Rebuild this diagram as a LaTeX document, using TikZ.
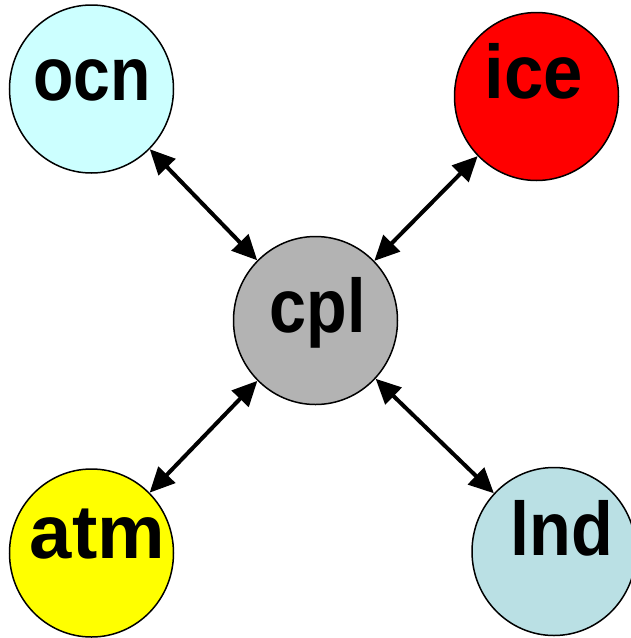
\documentclass[tikz,border=0pt]{standalone}
\usepackage{fontspec}
\setmainfont{Liberation Sans}
\usetikzlibrary{shapes.geometric,arrows.meta}
\definecolor{ocncol}{HTML}{CCFFFF}
\definecolor{icecol}{HTML}{FF0000}
\definecolor{cplcol}{HTML}{B3B3B3}
\definecolor{atmcol}{HTML}{FFFF00}
\definecolor{lndcol}{HTML}{BAE0E4}
\newcommand{\complbl}[2]{\scalebox{#1}[1]{#2}}
\begin{document}
\begin{tikzpicture}[x=1pt,y=-1pt,
  comp/.style={ellipse,draw=black,line width=1.5pt,inner sep=0pt,
    minimum width=164pt,minimum height=168pt},
  comptext/.style={anchor=base,inner sep=0pt,
    font=\fontsize{76}{76}\selectfont\bfseries},
  link/.style={line width=4pt,
    {Triangle[length=25pt,width=23pt]}-{Triangle[length=25pt,width=23pt]}}]
  \useasboundingbox (0,0) rectangle (630,638);

  % component circles
  \node[comp,fill=ocncol] (ocn) at (91.5,89) {};
  \node[comp,fill=icecol] (ice) at (536.5,96.5) {};
  \node[comp,fill=cplcol] (cpl) at (315.5,320.5) {};
  \node[comp,fill=atmcol] (atm) at (91.5,553) {};
  \node[comp,fill=lndcol] (lnd) at (554,551.5) {};

  % component names
  \node[comptext] (ocnt) at (92,100) {\complbl{0.87}{ocn}};
  \node[comptext] (icet) at (533.5,98) {\complbl{0.93}{ice}};
  \node[comptext] (cplt) at (317.5,332) {\complbl{0.875}{cpl}};
  \node[comptext] (atmt) at (97.5,558) {\complbl{1.0}{atm}};
  \node[comptext] (lndt) at (561.5,555) {\complbl{0.9}{lnd}};

  % coupler exchanges
  \draw[link] (ocn) -- (cpl);
  \draw[link] (ice) -- (cpl);
  \draw[link] (atm) -- (cpl);
  \draw[link] (lnd) -- (cpl);
\end{tikzpicture}
\end{document}
